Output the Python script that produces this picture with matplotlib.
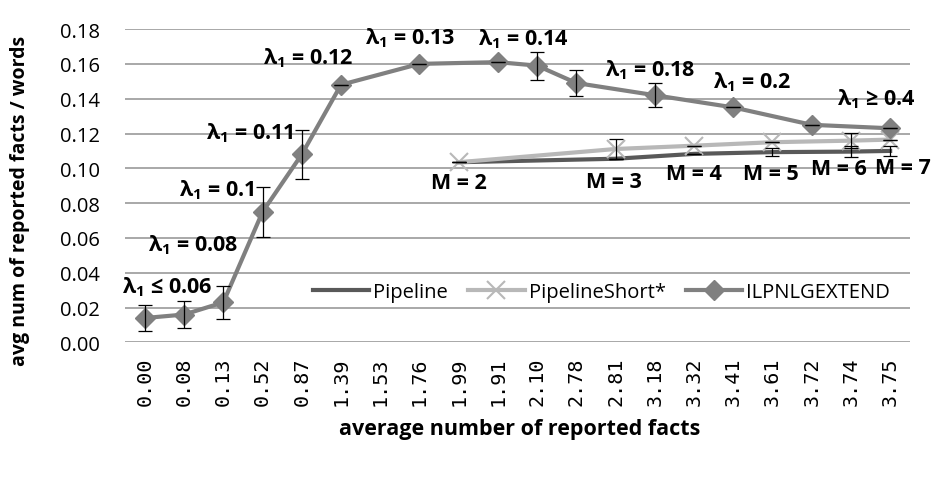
import matplotlib.pyplot as plt
import numpy as np

plt.rcParams['font.family'] = ['Open Sans', 'DejaVu Sans']
plt.rcParams['mathtext.fontset'] = 'custom'
plt.rcParams['mathtext.rm'] = 'Open Sans'
plt.rcParams['mathtext.bf'] = 'Open Sans:bold'

# x categories (average number of reported facts)
cats = ['0.00', '0.08', '0.13', '0.52', '0.87', '1.39', '1.53', '1.76', '1.99', '1.91',
        '2.10', '2.78', '2.81', '3.18', '3.32', '3.41', '3.61', '3.72', '3.74', '3.75']

# ILPNLGEXTEND series
ilp_cats = ['0.00', '0.08', '0.13', '0.52', '0.87', '1.39', '1.76', '1.91', '2.10',
            '2.78', '3.18', '3.41', '3.72', '3.75']
ilp_vals = [0.014, 0.016, 0.023, 0.075, 0.108, 0.148, 0.160, 0.161, 0.159,
            0.149, 0.142, 0.135, 0.125, 0.123]
ilp_err = [0.0075, 0.008, 0.0095, 0.0145, 0.014, 0, 0, 0, 0.008,
           0.0075, 0.007, 0, 0, 0]
ilp_labels = ['≤ 0.06', '= 0.08', '= 0.1', '= 0.11', '= 0.12', '= 0.13',
              '= 0.14', '= 0.18', '= 0.2', '≥ 0.4']
ilp_label_pos = [(0.56, 0.032), (1.23, 0.0565), (1.84, 0.088), (2.68, 0.1205), (4.17, 0.164),
                 (6.76, 0.1755), (9.64, 0.1745), (12.88, 0.157), (15.47, 0.150), (18.63, 0.140)]

# Pipeline / PipelineShort series
pipe_cats = ['1.99', '2.81', '3.32', '3.61', '3.74', '3.75']
pipe_vals = [0.1035, 0.1055, 0.1083, 0.1093, 0.1096, 0.1100]
pipe_err = [0, 0, 0, 0.0025, 0.003, 0.003]
short_vals = [0.1035, 0.1111, 0.1130, 0.1150, 0.1159, 0.1165]
short_err = [0, 0.006, 0, 0, 0.0045, 0]
m_labels = ['M = 2', 'M = 3', 'M = 4', 'M = 5', 'M = 6', 'M = 7']
m_label_pos = [(8.01, 0.092), (11.96, 0.0925), (14.0, 0.0968), (15.95, 0.0968),
               (17.69, 0.0997), (19.32, 0.1006)]

xi = {c: i for i, c in enumerate(cats)}
ilp_x = [xi[c] for c in ilp_cats]
pipe_x = [xi[c] for c in pipe_cats]

fig = plt.figure(figsize=(9.35, 4.85), dpi=100)
ax = fig.add_axes([0.134, 0.292, 0.839, 0.646])

ebkw = dict(fmt='none', ecolor='black', elinewidth=0.9, capsize=5, capthick=0.9)

ax.plot(pipe_x, pipe_vals, color='#595959', lw=3, label='Pipeline', zorder=3)
ax.errorbar(pipe_x, pipe_vals, yerr=pipe_err, zorder=6, **ebkw)
ax.plot(pipe_x, short_vals, color='#b8b8b8', lw=3, marker='x', markersize=13,
        markeredgewidth=1.5, label='PipelineShort*', zorder=4)
ax.errorbar(pipe_x, short_vals, yerr=short_err, zorder=6, **ebkw)
ax.plot(ilp_x, ilp_vals, color='#808080', lw=3, marker='D', markersize=10,
        label='ILPNLGEXTEND', zorder=5)
ax.errorbar(ilp_x, ilp_vals, yerr=ilp_err, zorder=6, **ebkw)

for txt, (x, y) in zip(ilp_labels, ilp_label_pos):
    ax.text(x, y, 'λ$_\\mathbf{1}$ ' + txt, ha='center', va='center', fontsize=15.5,
            fontweight='bold', zorder=7)
for txt, (x, y) in zip(m_labels, m_label_pos):
    ax.text(x, y, txt, ha='center', va='center', fontsize=15.5, fontweight='bold', zorder=7)

ax.set_xlim(-0.5, len(cats) - 0.5)
ax.set_ylim(0, 0.18)
ax.set_yticks(np.arange(0, 0.181, 0.02))
ax.set_yticklabels(['%.2f' % v for v in np.arange(0, 0.181, 0.02)], fontsize=14.5)
ax.set_xticks(range(len(cats)))
ax.set_xticklabels(cats, rotation=90, fontsize=14.5, family='DejaVu Sans Mono')
ax.tick_params(axis='y', length=0, pad=18)
ax.tick_params(axis='x', length=0, pad=10)
ax.yaxis.grid(True, color='#9a9a9a', lw=1.2)
ax.set_axisbelow(True)
for s in ax.spines.values():
    s.set_visible(False)

ax.set_ylabel('avg num of reported facts / words', fontsize=14, fontweight='bold')
ax.yaxis.set_label_coords(-0.121, 0.455)
ax.set_xlabel('average number of reported facts', fontsize=15.5, fontweight='bold')
ax.xaxis.set_label_coords(0.503, -0.24)

ax.legend(loc='center', bbox_to_anchor=(0.607, 0.161), ncol=3, frameon=False, fontsize=14.5,
          handlelength=2.8, columnspacing=1.0, handletextpad=0.2)

fig.savefig('out.png', dpi=100)
